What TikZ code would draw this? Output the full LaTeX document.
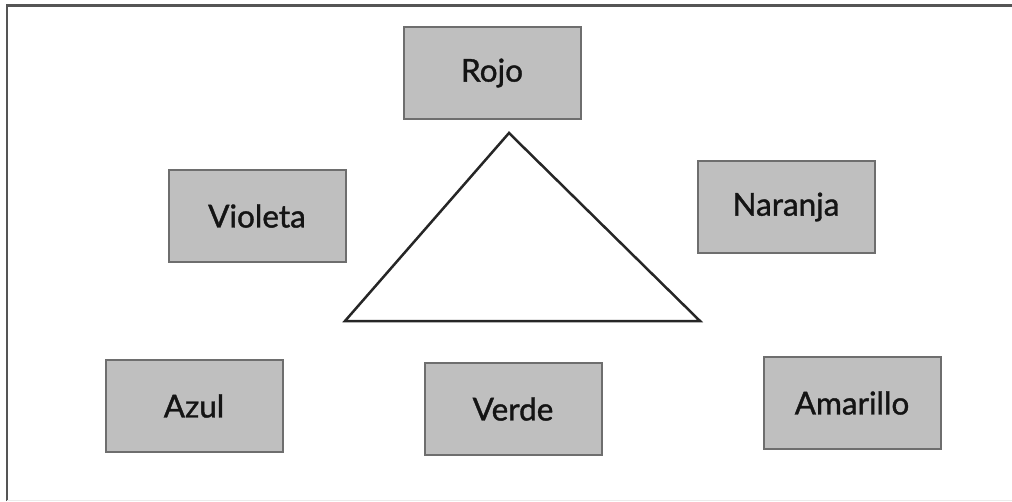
\documentclass[tikz,border=0pt]{standalone}
\usepackage{fontspec}
\setmainfont{Lato}
\newfontfamily\boxfont[FakeBold=1.2]{Lato}
\definecolor{boxfill}{HTML}{BFBFBF}
\definecolor{boxline}{HTML}{6E6E6E}
\definecolor{framecol}{HTML}{555555}
\begin{document}
\begin{tikzpicture}[x=1pt,y=-1pt,
  colorbox/.style={draw=boxline, line width=2pt, fill=boxfill, minimum width=177pt, minimum height=92pt, inner sep=0pt, font=\boxfont\fontsize{31.5}{34}\selectfont, text=black!92}]
\useasboundingbox (0,0) rectangle (1012,501);
% outer frame (partly cropped)
\draw[framecol, line width=2.5pt] (7,501) -- (7,5.5) -- (1012,5.5);
\draw[black!8, line width=1pt] (7,500) -- (1012,500);
% boxes
\node[colorbox] (rojo) at (492,73) {Rojo};
\node[colorbox] (violeta) at (257,216) {Violeta};
\node[colorbox] (naranja) at (786,207) {Naranja};
\node[colorbox] (azul) at (194,406) {Azul};
\node[colorbox] (verde) at (513,409) {Verde};
\node[colorbox] (amarillo) at (852,403) {Amarillo};
% triangle
\coordinate (apex) at (509,133);
\coordinate (bl) at (345,321);
\coordinate (br) at (700,321);
\draw[black!85, line width=2.5pt, line join=miter] (apex) -- (br) -- (bl) -- cycle;
\end{tikzpicture}
\end{document}
